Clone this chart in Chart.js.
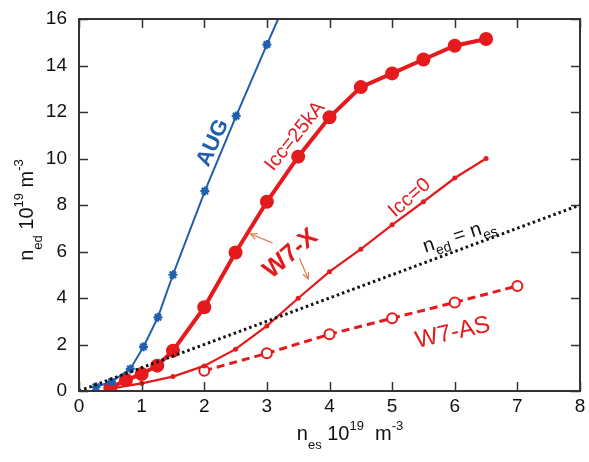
<!DOCTYPE html>
<html><head><meta charset="utf-8">
<script src="https://cdn.jsdelivr.net/npm/chart.js@4/dist/chart.umd.min.js"></script>
<style>html,body{margin:0;padding:0;background:#fff}#wrap{width:589px;height:462px}</style>
</head><body><div id="wrap"><canvas id="c" width="589" height="462"></canvas></div>
<script>
const xTicks = [0,1,2,3,4,5,6,7,8];
const yTicks = [0,2,4,6,8,10,12,14,16];

const augX = [0.27,0.52,0.82,1.03,1.26,1.5,2.01,2.51,3.0,3.18];
const augY = [0.18,0.4,0.95,1.9,3.17,5.0,8.6,11.83,14.9,16.0];

const icc25X = [0.5,0.75,1.0,1.25,1.5,2.0,2.5,3.0,3.5,4.0,4.5,5.0,5.5,6.0,6.5];
const icc25Y = [0.14,0.47,0.73,1.09,1.73,3.6,5.96,8.14,10.08,11.77,13.07,13.66,14.26,14.85,15.14];

const icc0X = [0.5,1.0,1.5,2.0,2.5,3.0,3.5,4.0,4.5,5.0,5.5,6.0,6.5];
const icc0Y = [0.1,0.33,0.62,1.08,1.8,2.8,3.99,5.13,6.1,7.15,8.14,9.16,10.0];

const w7asX = [2.0,3.0,4.0,5.0,6.0,7.0];
const w7asY = [0.87,1.62,2.44,3.13,3.81,4.52];

const eqX = [0,8];
const eqY = [0,8];

const RED = '#e41a1c';
const BLUE = '#1f5fad';
const FONT = "'Liberation Sans', Arial, sans-serif";

function pts(xs, ys){ return xs.map((x,i)=>({x:x,y:ys[i]})); }

function richText(ctx, x, y, ang, parts, color, align){
  ctx.save(); ctx.translate(x,y); ctx.rotate(ang*Math.PI/180);
  ctx.fillStyle=color; ctx.textBaseline='alphabetic'; ctx.textAlign='left';
  let total=0; parts.forEach(p=>{ctx.font=p.f; total+=ctx.measureText(p.t).width;});
  let cx = align==='center' ? -total/2 : 0;
  parts.forEach(p=>{ctx.font=p.f; ctx.fillText(p.t,cx,p.dy||0); cx+=ctx.measureText(p.t).width;});
  ctx.restore();
}

const frame = {
  id:'frame',
  afterDatasetsDraw(chart){
    const ctx = chart.ctx, a = chart.chartArea, xs = chart.scales.x, ys = chart.scales.y;
    ctx.save();
    ctx.strokeStyle = '#333'; ctx.lineWidth = 1.5;
    xTicks.forEach(v=>{
      const px = Math.round(xs.getPixelForValue(v))+0.5;
      ctx.beginPath(); ctx.moveTo(px,a.bottom); ctx.lineTo(px,a.bottom-9); ctx.stroke();
      ctx.beginPath(); ctx.moveTo(px,a.top); ctx.lineTo(px,a.top+9); ctx.stroke();
    });
    yTicks.forEach(v=>{
      const py = Math.round(ys.getPixelForValue(v))+0.5;
      ctx.beginPath(); ctx.moveTo(a.left,py); ctx.lineTo(a.left+9,py); ctx.stroke();
      ctx.beginPath(); ctx.moveTo(a.right,py); ctx.lineTo(a.right-9,py); ctx.stroke();
    });
    ctx.lineWidth = 2;
    ctx.strokeRect(a.left, a.top, a.right-a.left, a.bottom-a.top);

    const X = v=>xs.getPixelForValue(v), Y = v=>ys.getPixelForValue(v);
    function label(txt, x, y, ang, font, color){
      ctx.save(); ctx.translate(X(x), Y(y)); ctx.rotate(ang*Math.PI/180);
      ctx.font = font; ctx.fillStyle = color; ctx.textAlign='center'; ctx.textBaseline='middle';
      ctx.fillText(txt,0,0); ctx.restore();
    }
    label('AUG', 2.14, 10.67, -65, 'bold 22px '+FONT, BLUE);
    label('Icc=25kA', 3.45, 10.95, -51, '20px '+FONT, RED);
    label('W7-X', 3.38, 5.9, -40, 'bold 25px '+FONT, RED);
    label('Icc=0', 5.28, 8.3, -41, '20px '+FONT, RED);
    label('W7-AS', 5.97, 2.5, -13, '24px '+FONT, RED);
    richText(ctx, X(6.1), Y(6.75)+7, -18, [
      {t:'n',f:'20px '+FONT},{t:'ed',f:'14px '+FONT,dy:6},{t:' = n',f:'20px '+FONT},{t:'es',f:'14px '+FONT,dy:6}
    ], '#111', 'center');

    function arrow(x1,y1,x2,y2){
      const p1=[X(x1),Y(y1)], p2=[X(x2),Y(y2)];
      const ang=Math.atan2(p2[1]-p1[1],p2[0]-p1[0]);
      ctx.save(); ctx.strokeStyle='#d9804f'; ctx.lineWidth=1.2;
      ctx.beginPath(); ctx.moveTo(p1[0],p1[1]); ctx.lineTo(p2[0],p2[1]); ctx.stroke();
      ctx.beginPath();
      ctx.moveTo(p2[0]-7*Math.cos(ang-0.45),p2[1]-7*Math.sin(ang-0.45));
      ctx.lineTo(p2[0],p2[1]);
      ctx.lineTo(p2[0]-7*Math.cos(ang+0.45),p2[1]-7*Math.sin(ang+0.45));
      ctx.stroke(); ctx.restore();
    }
    arrow(3.09,6.37,2.74,6.75);
    arrow(3.52,5.72,3.66,4.82);

    richText(ctx, 350, 440, 0, [
      {t:'n',f:'20px '+FONT},{t:'es',f:'13px '+FONT,dy:9},{t:' 10',f:'20px '+FONT},{t:'19',f:'13px '+FONT,dy:-10},
      {t:'  m',f:'20px '+FONT},{t:'-3',f:'13px '+FONT,dy:-10}
    ], '#111', 'center');
    richText(ctx, 33, 210, -90, [
      {t:'n',f:'20px '+FONT},{t:'ed',f:'13px '+FONT,dy:9},{t:' 10',f:'20px '+FONT},{t:'19',f:'13px '+FONT,dy:-10},
      {t:' m',f:'20px '+FONT},{t:'-3',f:'13px '+FONT,dy:-10}
    ], '#111', 'center');
    ctx.restore();
  }
};

new Chart(document.getElementById('c'), {
  type:'scatter',
  data:{ datasets:[
    {label:'ned = nes', data:pts(eqX,eqY), showLine:true, borderColor:'#111', borderWidth:3, borderDash:[2.5,3], pointRadius:0},
    {label:'AUG', data:pts(augX,augY), showLine:true, borderColor:BLUE, borderWidth:2, pointStyle:'star',
      pointRadius:augX.map((v,i)=>i===augX.length-1?0:4.5), pointBorderWidth:2.2, pointBorderColor:BLUE, pointBackgroundColor:BLUE},
    {label:'Icc=25kA', data:pts(icc25X,icc25Y), showLine:true, borderColor:RED, borderWidth:4, pointStyle:'circle',
      pointRadius:7, pointBackgroundColor:RED, pointBorderColor:RED, pointBorderWidth:0},
    {label:'Icc=0', data:pts(icc0X,icc0Y), showLine:true, borderColor:RED, borderWidth:2.2, pointStyle:'circle',
      pointRadius:2.5, pointBackgroundColor:RED, pointBorderColor:RED, pointBorderWidth:0},
    {label:'W7-AS', data:pts(w7asX,w7asY), showLine:true, borderColor:RED, borderWidth:3, borderDash:[8,5], pointStyle:'circle',
      pointRadius:5, pointBackgroundColor:'#fff', pointBorderColor:RED, pointBorderWidth:2}
  ]},
  options:{
    responsive:false, animation:false, devicePixelRatio:1,
    layout:{padding:{top:19,right:9,left:0,bottom:0}},
    plugins:{legend:{display:false}, tooltip:{enabled:false}},
    scales:{
      x:{type:'linear', min:0, max:8, grid:{display:false}, border:{display:false},
        afterBuildTicks:s=>{s.ticks=xTicks.map(v=>({value:v}));},
        afterFit:s=>{s.height=71;},
        ticks:{padding:-4, color:'#111', font:{family:FONT,size:19}}},
      y:{type:'linear', min:0, max:16, grid:{display:false}, border:{display:false},
        afterBuildTicks:s=>{s.ticks=yTicks.map(v=>({value:v}));},
        afterFit:s=>{s.width=79;},
        ticks:{padding:4, color:'#111', font:{family:FONT,size:19}}}
    }
  },
  plugins:[frame]
});
</script>
</body></html>
